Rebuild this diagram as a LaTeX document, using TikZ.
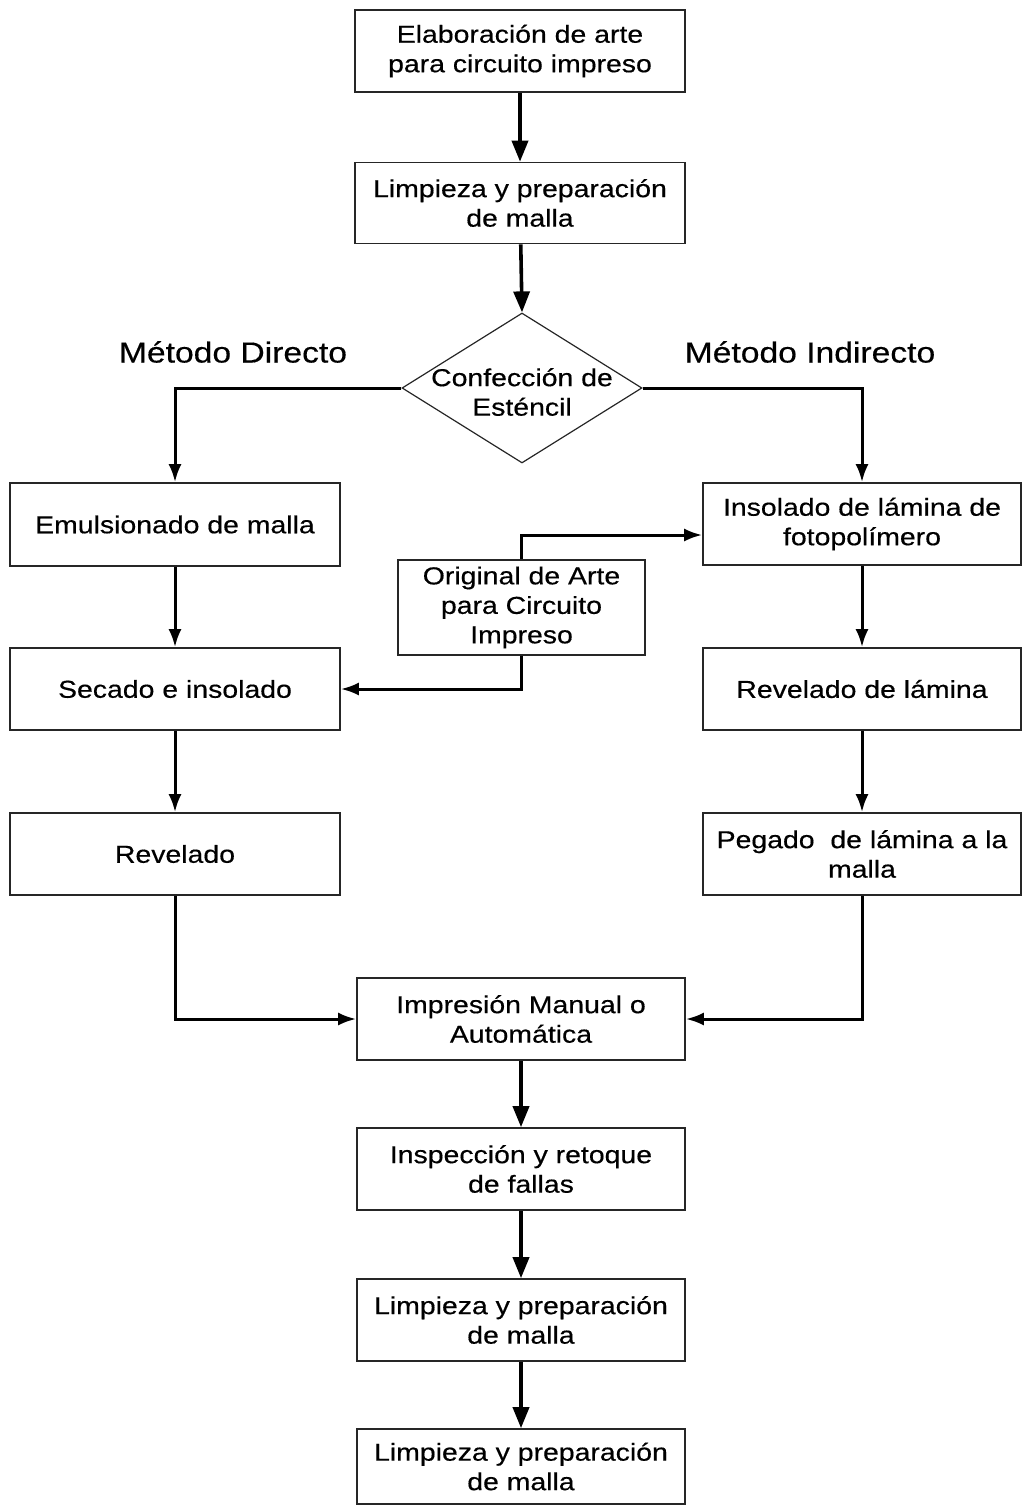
\documentclass[tikz,border=0pt]{standalone}
\usepackage{fontspec}
\setmainfont{Liberation Sans}[FakeStretch=1.16, FakeBold=0.4]
\usetikzlibrary{arrows.meta,shapes.geometric}
\tikzset{
  stepbox/.style={draw=black!85, line width=1.6pt, rectangle, align=center,
    minimum width=330pt, minimum height=82pt, inner sep=2pt,
    font=\fontsize{24.5}{29.5}\selectfont},
  flow/.style={line width=3.6pt, -{Triangle[length=21pt,width=16pt]}},
  side/.style={line width=3pt, -{Latex[length=18pt,width=13pt]}},
  heading/.style={font=\fontsize{29}{34}\selectfont}
}
\begin{document}
\begin{tikzpicture}[x=1pt,y=-1pt]
\useasboundingbox (0,0) rectangle (1026,1506);

% main column
\node[stepbox] (elab)  at (520,51)  {Elaboración de arte\\para circuito impreso};
\node[stepbox, minimum height=81pt] (limpA) at (520,203) {Limpieza y preparación\\de malla};
\node[diamond, draw=black!85, line width=1.2pt, minimum width=240pt, minimum height=150pt, inner sep=0pt] (dia) at (522,388) {};
\node[font=\fontsize{24.5}{29.5}\selectfont, align=center] (diatext) at (522,392) {Confección de\\Esténcil};

% headings
\node[heading] (hdir) at (233,352) {Método Directo};
\node[heading] (hind) at (810,352) {Método Indirecto};

% direct method
\node[stepbox, minimum height=83pt] (emul) at (175,524.5) {Emulsionado de malla};
\node[stepbox] (sec)  at (175,689) {Secado e insolado};
\node[stepbox] (rev)  at (175,854) {Revelado};

% indirect method
\node[stepbox, minimum width=318pt] (ins) at (862,524) {Insolado de lámina de\\fotopolímero};
\node[stepbox, minimum width=318pt] (revl) at (862,689) {Revelado de lámina};
\node[stepbox, minimum width=318pt] (peg) at (862,854) {Pegado\ \ de lámina a la\\malla};

% artwork original
\node[stepbox, minimum width=247pt, minimum height=95pt] (orig) at (521.5,607.5) {Original de Arte\\para Circuito\\Impreso};

% final steps
\node[stepbox, minimum width=328pt] (imp)  at (521,1019) {Impresión Manual o\\Automática};
\node[stepbox, minimum width=328pt] (insp) at (521,1169) {Inspección y retoque\\de fallas};
\node[stepbox, minimum width=328pt] (limpB) at (521,1320) {Limpieza y preparación\\de malla};
\node[stepbox, minimum width=328pt, minimum height=75pt] (limpC) at (521,1466.5) {Limpieza y preparación\\de malla};

% connectors
\draw[flow] (elab) -- (limpA);
\draw[flow] (limpA) -- (dia.north);
\draw[side] (dia.west) -| (emul.north);
\draw[side] (dia.east) -| (ins.north);
\draw[side] (emul) -- (sec);
\draw[side] (sec) -- (rev);
\draw[side] (ins) -- (revl);
\draw[side] (revl) -- (peg);
\draw[side] (orig.north) |- ([yshift=-11pt]ins.west);
\draw[side] (orig.south) |- (sec.east);
\draw[side] (rev.south) |- (imp.west);
\draw[side] (peg.south) |- (imp.east);
\draw[flow] (imp) -- (insp);
\draw[flow] (insp) -- (limpB);
\draw[flow] (limpB) -- (limpC);
\end{tikzpicture}
\end{document}
